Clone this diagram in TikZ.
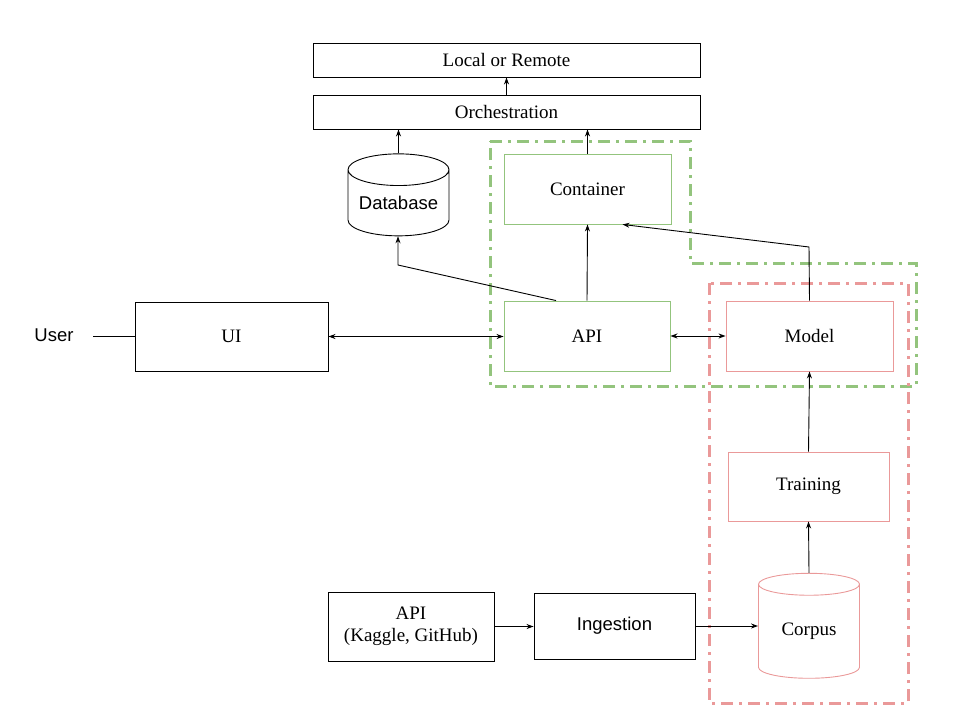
\documentclass[tikz,border=0pt]{standalone}
\usepackage{fontspec}
\setmainfont{Liberation Serif}
\setsansfont{Liberation Sans}
\usepackage{tikz}
\usetikzlibrary{arrows.meta,shapes.geometric}
\definecolor{grn}{HTML}{93C47D}
\definecolor{rd}{HTML}{EA9999}
\tikzstyle{arrow} = [line width=0.9pt,-{Stealth[length=7pt,width=5pt]}]
\tikzstyle{both} = [line width=0.9pt,{Stealth[length=7pt,width=5pt]}-{Stealth[length=7pt,width=5pt]}]
\tikzstyle{box} = [draw, line width=0.9pt, font=\fontsize{19}{22}\selectfont, align=center, inner sep=0pt]
\tikzstyle{db} = [box, cylinder, shape border rotate=90, aspect=0.4]
\tikzstyle{sans} = [font=\sffamily\fontsize{18.5}{21}\selectfont]
\tikzstyle{region} = [line width=3pt, dash pattern=on 12pt off 6pt on 3pt off 6pt]

\begin{document}
\begin{tikzpicture}[x=1pt, y=-1pt]
\useasboundingbox (0,0) rectangle (960,720);

% regions
\draw[region, grn] (490,141) -- (690,141) -- (690,263) -- (916,263) -- (916,386) -- (490,386) -- cycle;
\draw[region, rd] (709,283) rectangle (908,703);

% top row
\node[box, minimum width=387, minimum height=34] (remote) at (506.5,60) {Local or Remote};
\node[box, minimum width=387, minimum height=34] (orch) at (506.5,112) {Orchestration};
\node[db, sans, minimum width=101, minimum height=82] (database) at (398.5,203) {Database};
\node[box, grn, text=black, minimum width=167, minimum height=70] (container) at (587.5,189) {Container};

% middle row
\node[sans] (user) at (54,335) {User};
\node[box, minimum width=193, minimum height=69] (ui) at (231.5,336.5) {UI};
\node[box, grn, text=black, minimum width=166, minimum height=70] (api) at (587,336) {API};
\node[box, rd, text=black, minimum width=167, minimum height=70] (model) at (809.5,336) {Model};

% pipeline
\node[box, rd, text=black, minimum width=161, minimum height=69] (training) at (808.5,486.5) {Training};
\node[db, rd, text=black, minimum width=101, minimum height=105] (corpus) at (809,631.5) {Corpus};
\node[box, sans, minimum width=161, minimum height=66] (ingest) at (614.5,626) {Ingestion};
\node[box, minimum width=166, minimum height=69] (source) at (411,626.5) {API\\(Kaggle, GitHub)};

% connectors
\coordinate (userend) at (93,336);
\coordinate (dbbend) at (398,265);
\coordinate (modelbend) at (809,247);
\draw[arrow] (orch.north) -- (remote.south);
\draw[arrow] (database.top) -- (database.top |- orch.south);
\draw[arrow] (container.north) -- (container.north |- orch.south);
\draw[line width=0.9pt] (userend) -- (userend -| ui.west);
\draw[both] (ui.east) -- (ui.east -| api.west);
\draw[both] (api.east) -- (model.west);
\draw[arrow] (api.north) -- (container.south);
\draw[arrow] ([xshift=-31pt]api.north) -- (dbbend) -- (dbbend |- database.bottom);
\draw[arrow] (model.north) -- (modelbend) -- ([xshift=35pt]container.south);
\draw[arrow] (training.north) -- (model.south);
\draw[arrow] (corpus.top) -- (training.south);
\draw[arrow] (source.east) -- (source.east -| ingest.west);
\draw[arrow] (ingest.east) -- (ingest.east -| corpus.west);

\end{tikzpicture}
\end{document}
